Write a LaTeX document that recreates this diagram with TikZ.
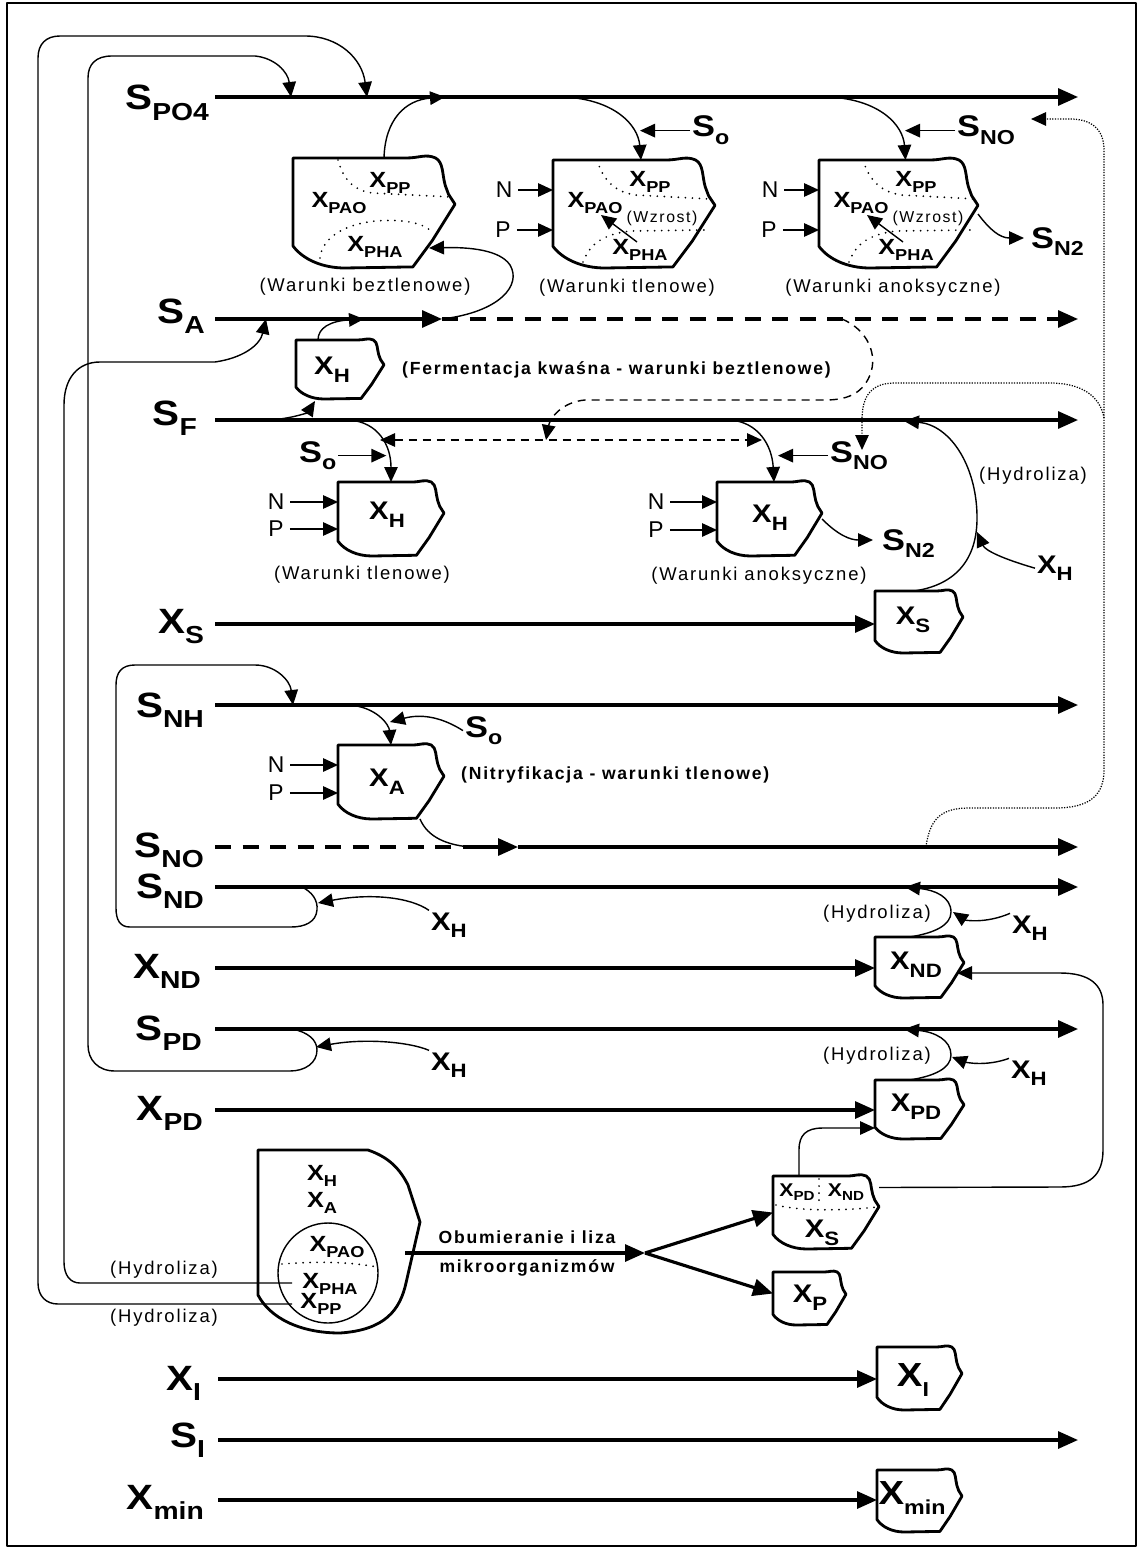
\documentclass[tikz,border=0pt]{standalone}
\usepackage{fontspec}
\setmainfont{Liberation Sans}
\newfontfamily\wfont[LetterSpace=10]{Liberation Sans}
\usetikzlibrary{arrows.meta}

% labels with subscripts
\newcommand{\wide}[1]{\scalebox{1.15}[1]{#1}}
\newcommand{\rowlab}[2]{\wide{\bfseries\fontsize{20}{20}\selectfont #1\raisebox{-6pt}{\fontsize{14}{14}\selectfont #2}}}
\newcommand{\boxlab}[2]{\wide{\bfseries\fontsize{19}{19}\selectfont #1\raisebox{-5.5pt}{\fontsize{11.5}{11.5}\selectfont #2}}}
\newcommand{\mlab}[2]{\wide{\bfseries\fontsize{17}{17}\selectfont #1\raisebox{-4.5pt}{\fontsize{11.5}{11.5}\selectfont #2}}}
\newcommand{\lab}[2]{\wide{\bfseries\fontsize{14.5}{14.5}\selectfont #1\raisebox{-4.5pt}{\fontsize{11}{11}\selectfont #2}}}
\newcommand{\slab}[2]{\wide{\bfseries\fontsize{12.5}{12.5}\selectfont #1\raisebox{-3.5pt}{\fontsize{9}{9}\selectfont #2}}}
\newcommand{\tlab}[2]{\wide{\bfseries\fontsize{10.5}{10.5}\selectfont #1\raisebox{-2.5pt}{\fontsize{7.5}{7.5}\selectfont #2}}}

\tikzset{
  main/.style={line width=1.8pt},
  conn/.style={line width=0.8pt},
  pointed/.style={arrows={-Triangle[length=3mm,width=2.7mm]}},
  twoway/.style={arrows={Triangle[length=3mm,width=2.7mm]-Triangle[length=3mm,width=2.7mm]}},
  blobline/.style={line width=1.6pt, line join=round},
  zone/.style={line width=1.1pt, line cap=round, dash pattern=on 0pt off 4pt},
  dots/.style={line width=0.7pt, dash pattern=on 0.7pt off 0.8pt},
  dashlong/.style={dash pattern=on 3.2mm off 2.3mm},
  dashshort/.style={dash pattern=on 1.6mm off 1.2mm},
  note/.style={font=\wfont\fontsize{10.5}{12}\selectfont},
  bnote/.style={font=\wfont\bfseries\fontsize{10}{12}\selectfont},
  rowname/.style={anchor=base east, inner sep=1pt},
  sidename/.style={anchor=base west, inner sep=1pt},
  np/.style={font=\fontsize{13}{13}\selectfont},
  hold/.style={shape=rectangle, inner sep=0pt, outer sep=0pt}
}

% irregular box: name, left, top, width, height
\newcommand{\blob}[5]{%
  \begin{scope}[shift={(#2,#3)}, xscale=#4, yscale=#5]
    \draw[blobline] (0,0) -- (0.7,0) .. controls (0.78,0) and (0.82,-0.04) .. (0.88,0)
      .. controls (0.93,0.04) and (0.92,0.15) .. (0.94,0.25) -- (0.96,0.33) -- (1,0.42)
      -- (0.86,0.75) -- (0.74,0.99) -- (0.32,1) .. controls (0.18,1) and (0.06,0.92) .. (0,0.8) -- cycle;
    \node[hold, minimum width=#4*0.2mm, minimum height=#5*0.2mm] (#1) at (0.5,0.5) {};
  \end{scope}}

\begin{document}
\begin{tikzpicture}[x=0.2mm, y=-0.2mm, >={Triangle[length=4mm,width=3.4mm]}, line join=round]
  \useasboundingbox (0,0) rectangle (1139,1548);
  \draw[line width=1.2pt] (7,3) rectangle (1136,1546);

  % Row ends
  \foreach \n/\y in {PO4/97, A/319, F/420, XS/624, NH/705, NO/847, ND/887, XND/968, PD/1029, XPD/1110}
    \coordinate (\n-in) at (215,\y);
  \foreach \n/\y in {XI/1379, SI/1440, Xmin/1500}
    \coordinate (\n-in) at (218,\y);
  \foreach \n/\y in {PO4/97, A/319, F/420, NH/705, NO/847, ND/887, PD/1029, SI/1440}
    \coordinate (\n-out) at (1078,\y);
  \coordinate (A-mid) at (442,319);
  \coordinate (NO-mid) at (470,847);
  \coordinate (NO-tip) at (518,847);
  \coordinate (split) at (645,1253);
  \coordinate (pha-out) at (292,1283);
  \coordinate (pp-out) at (292,1304);

  % Row names
  \node[rowname] (lPO4) at (211,110) {\rowlab{S}{PO4}};
  \node[rowname] (lA) at (207,323) {\rowlab{S}{A}};
  \node[rowname] (lF) at (199,425) {\rowlab{S}{F}};
  \node[rowname] (lXS) at (206,633) {\rowlab{X}{S}};
  \node[rowname] (lNH) at (206,717) {\rowlab{S}{NH}};
  \node[rowname] (lNO) at (206,857) {\rowlab{S}{NO}};
  \node[rowname] (lND) at (206,898) {\rowlab{S}{ND}};
  \node[rowname] (lXND) at (203,978) {\rowlab{X}{ND}};
  \node[rowname] (lPD) at (204,1040) {\rowlab{S}{PD}};
  \node[rowname] (lXPD) at (205,1120) {\rowlab{X}{PD}};
  \node[rowname] (lXI) at (203,1390) {\rowlab{X}{I}};
  \node[rowname] (lSI) at (207,1447) {\rowlab{S}{I}};
  \node[rowname] (lXmin) at (206,1509) {\rowlab{X}{min}};

  % Boxes
  \blob{bAn}{293}{158}{162}{110}
  \blob{bAe}{553}{160}{162}{108}
  \blob{bAx}{819}{160}{159}{108}
  \blob{bF}{296}{340}{88}{59}
  \blob{bHo}{338}{482}{106}{74}
  \blob{bHx}{717}{482}{105}{74}
  \blob{bXS}{875}{591}{88}{62}
  \blob{bXA}{338}{745}{106}{74}
  \blob{bXND}{875}{937}{89}{61}
  \blob{bXPD}{875}{1080}{89}{59}
  \blob{bMix}{773}{1176}{106}{73}
  \blob{bXP}{773}{1272}{73}{53}
  \blob{bXI}{877}{1347}{85}{63}
  \blob{bXmin}{877}{1470}{85}{62}
  \draw[blobline] (258,1150) -- (368,1150) .. controls (385,1156) and (398,1165) .. (408,1185)
    -- (420,1222) -- (406,1283) .. controls (400,1310) and (385,1330) .. (340,1333)
    .. controls (300,1333) and (270,1318) .. (258,1295) -- cycle;
  \node[hold, minimum width=162*0.2mm, minimum height=183*0.2mm] (bLys) at (339,1241) {};

  % Rows
  \draw[main,->] (PO4-in) -- (PO4-out);
  \draw[main,->] (A-in) -- (A-mid);
  \draw[main,dashlong,->] (A-mid) -- (A-out);
  \draw[main,->] (F-in) -- (F-out);
  \draw[main,->] (XS-in) -- (XS-in -| bXS.west);
  \draw[main,->] (NH-in) -- (NH-out);
  \draw[main,dashlong] (NO-in) -- (NO-mid);
  \draw[main,->] (NO-mid) -- (NO-tip);
  \draw[main,->] (NO-tip) -- (NO-out);
  \draw[main,->] (ND-in) -- (ND-out);
  \draw[main,->] (XND-in) -- (XND-in -| bXND.west);
  \draw[main,->] (PD-in) -- (PD-out);
  \draw[main,->] (XPD-in) -- (XPD-in -| bXPD.west);
  \draw[main,->] (XI-in) -- (XI-in -| bXI.west);
  \draw[main,->] (SI-in) -- (SI-out);
  \draw[main,->] (Xmin-in) -- (Xmin-in -| bXmin.west);

  % Anaerobic PAO box
  \draw[zone] (338,160) .. controls (343,178) and (352,190) .. (372,193) -- (452,197);
  \draw[zone] (320,258) .. controls (322,240) and (340,225) .. (375,221) .. controls (400,219) and (420,222) .. (430,230);
  \node (anPP) at (390,183) {\slab{X}{PP}};
  \node (anPAO) at (339,203) {\slab{X}{PAO}};
  \node (anPHA) at (375,247) {\slab{X}{PHA}};
  \node[note] (wAn) at (365,287) {(Warunki beztlenowe)};
  \draw[conn,pointed] ([xshift=2mm]bAn.north) .. controls (385,120) and (405,100) .. (445,97);
  \draw[conn,pointed] (A-mid) .. controls (500,312) and (522,285) .. (510,265) .. controls (500,250) and (470,247) .. (429,248);

  % Aerobic and anoxic PAO boxes
  \foreach \dx in {0,266} {
    \begin{scope}[shift={(\dx,0)}]
      \draw[zone] (597,160) .. controls (603,180) and (615,192) .. (635,195) -- (710,199);
      \draw[zone] (583,262) .. controls (590,245) and (600,235) .. (630,231) -- (705,230);
      \node (pp\dx) at (650,182) {\slab{X}{PP}};
      \node (pao\dx) at (595,203) {\slab{X}{PAO}};
      \node (pha\dx) at (640,250) {\slab{X}{PHA}};
      \node[note, font=\wfont\fontsize{9}{10}\selectfont] (wz\dx) at (662,218) {(Wzrost)};
      \draw[conn,pointed] (637,242) -- (601,215);
      \node[np] (n\dx) at (504,190) {N};
      \node[np] (p\dx) at (503,230) {P};
    \end{scope}
  }
  \draw[conn,pointed] (n0.east) -- (n0.east -| bAe.west);
  \draw[conn,pointed] (p0.east) -- (p0.east -| bAe.west);
  \draw[conn,pointed] (n266.east) -- (n266.east -| bAx.west);
  \draw[conn,pointed] (p266.east) -- (p266.east -| bAx.west);
  \node[note] (wAe) at (627,288) {(Warunki tlenowe)};
  \node[note] (wAx) at (893,288) {(Warunki anoksyczne)};
  \node[sidename] (so1) at (690,137) {\mlab{S}{o}};
  \node[sidename] (sno1) at (955,137) {\mlab{S}{NO}};
  \node[sidename] (sn21) at (1029,248) {\mlab{S}{N2}};
  \draw[conn,pointed] (565,97) .. controls (615,100) and (638,125) .. ([xshift=1.4mm]bAe.north);
  \draw[conn,pointed] (830,97) .. controls (880,100) and (903,125) .. ([xshift=1.4mm]bAx.north);
  \draw[conn,pointed] (so1.west) -- ++(-50,0);
  \draw[conn,pointed] (sno1.west) -- ++(-50,0);
  \draw[conn,pointed] (bAx.east) .. controls (990,230) and (1000,238) .. (1024,238);

  % Fermentation
  \node (tF) at (332,370) {\lab{X}{H}};
  \node[bnote, anchor=west] (ferm) at (396,370) {(Fermentacja kwaśna - warunki beztlenowe)};
  \draw[conn,pointed] (271,420) .. controls (295,418) and (308,412) .. (315,401);
  \draw[conn,pointed] ([xshift=-4.4mm]bF.north) .. controls (318,328) and (330,321) .. (364,319);

  % Acetate towards the X_H boxes
  \draw[conn,dashshort,pointed] (842,319) .. controls (868,330) and (878,355) .. (870,375)
    .. controls (862,395) and (845,400) .. (825,400) -- (585,400) .. controls (562,402) and (550,418) .. (546,440);
  \draw[conn,dashshort,twoway] (380,440) -- (762,440);

  % X_H aerobic and anoxic
  \node (tHo) at (387,515) {\lab{X}{H}};
  \node (tHx) at (770,518) {\lab{X}{H}};
  \node[np] (nHo) at (276,502) {N};
  \node[np] (pHo) at (276,529) {P};
  \node[np] (nHx) at (656,502) {N};
  \node[np] (pHx) at (656,530) {P};
  \draw[conn,pointed] (nHo.east) -- (nHo.east -| bHo.west);
  \draw[conn,pointed] (pHo.east) -- (pHo.east -| bHo.west);
  \draw[conn,pointed] (nHx.east) -- (nHx.east -| bHx.west);
  \draw[conn,pointed] (pHx.east) -- (pHx.east -| bHx.west);
  \node[sidename] (so2) at (297,462) {\mlab{S}{o}};
  \node[sidename] (sno2) at (828,462) {\mlab{S}{NO}};
  \node[sidename] (sn22) at (880,550) {\mlab{S}{N2}};
  \draw[conn,pointed] (349,420) .. controls (378,422) and (391,445) .. (bHo.north);
  \draw[conn,pointed] (730,420) .. controls (758,422) and (772,445) .. ([xshift=0.9mm]bHx.north);
  \draw[conn,pointed] (so2.east) -- ++(48,0);
  \draw[conn,pointed] (sno2.west) -- ++(-50,0);
  \draw[conn,pointed] (bHx.east) .. controls (838,535) and (850,540) .. (873,540);
  \node[note] (wHo) at (362,575) {(Warunki tlenowe)};
  \node[note] (wHx) at (759,576) {(Warunki anoksyczne)};

  % Nitrate recirculation
  \draw[dots,pointed] (926,847) .. controls (930,815) and (945,808) .. (970,808) -- (1055,808)
    .. controls (1090,808) and (1104,795) .. (1104,770) -- (1104,150)
    .. controls (1104,128) and (1090,119) .. (1070,119) -- (1031,119);
  \draw[dots,pointed] (1104,418) .. controls (1100,395) and (1080,383) .. (1050,383) -- (895,383)
    .. controls (872,383) and (862,395) .. (862,420) -- (862,450);

  % Hydrolysis of X_S
  \node (tXS) at (913,620) {\lab{X}{S}};
  \node[sidename] (hXS) at (1035,573) {\lab{X}{H}};
  \node[note] (hy1) at (1033,476) {(Hydroliza)};
  \draw[conn,pointed] ([xshift=-1mm]bXS.north) .. controls (955,585) and (978,560) .. (977,515)
    .. controls (976,465) and (950,425) .. (904,421);
  \draw[conn,pointed] (hXS.west) .. controls (1000,558) and (985,550) .. (977,532);

  % Nitrification
  \node (tXA) at (387,782) {\lab{X}{A}};
  \node[np] (nXA) at (276,765) {N};
  \node[np] (pXA) at (276,793) {P};
  \draw[conn,pointed] (nXA.east) -- (nXA.east -| bXA.west);
  \draw[conn,pointed] (pXA.east) -- (pXA.east -| bXA.west);
  \node[sidename] (so3) at (463,737) {\mlab{S}{o}};
  \node[bnote, anchor=west] (nitr) at (455,775) {(Nitryfikacja - warunki tlenowe)};
  \draw[conn,pointed] (349,705) .. controls (377,707) and (389,725) .. (bXA.north);
  \draw[conn,pointed] (so3.west) .. controls (440,716) and (420,714) .. (390,722);
  \draw[conn] ([xshift=-4.8mm]bXA.south east) .. controls (428,838) and (448,845) .. (NO-mid);

  % S_ND and S_PD loops
  \node[sidename] (hL1) at (429,930) {\lab{X}{H}};
  \node[sidename] (hL2) at (429,1070) {\lab{X}{H}};
  \draw[conn,pointed] (302,887) .. controls (312,892) and (318,900) .. (317,910)
    .. controls (316,922) and (305,927) .. (291,927) -- (130,927) .. controls (120,927) and (116,920) .. (116,908)
    -- (116,685) .. controls (116,672) and (122,665) .. (135,665) -- (255,665)
    .. controls (275,665) and (290,680) .. (293,705);
  \draw[conn,pointed] (hL1.north west) .. controls (410,897) and (370,893) .. (318,903);
  \draw[conn,pointed] (292,1029) .. controls (308,1032) and (317,1040) .. (317,1050)
    .. controls (317,1063) and (305,1071) .. (290,1071) -- (115,1071) .. controls (98,1071) and (88,1060) .. (88,1045)
    -- (88,78) .. controls (88,64) and (96,56) .. (112,56) -- (255,56)
    .. controls (275,58) and (288,72) .. (291,97);
  \draw[conn,pointed] (hL2.north west) .. controls (410,1042) and (365,1038) .. (316,1047);

  % Hydrolysis of X_ND and X_PD
  \node (tXND) at (916,965) {\lab{X}{ND}};
  \node (tXPD) at (916,1107) {\lab{X}{PD}};
  \node[sidename] (hND) at (1010,933) {\lab{X}{H}};
  \node[sidename] (hPD) at (1009,1078) {\lab{X}{H}};
  \node[note] (hy2) at (877,914) {(Hydroliza)};
  \node[note] (hy3) at (877,1056) {(Hydroliza)};
  \draw[conn,pointed] ([xshift=-2mm]bXND.north) .. controls (935,933) and (951,925) .. (951,912)
    .. controls (951,897) and (935,890) .. (905,887);
  \draw[conn,pointed] (hND.north west) .. controls (985,924) and (965,920) .. (953,912);
  \draw[conn,pointed] ([xshift=-2mm]bXPD.north) .. controls (935,1076) and (951,1068) .. (951,1055)
    .. controls (951,1040) and (935,1032) .. (904,1029);
  \draw[conn,pointed] (hPD.north west) .. controls (985,1067) and (965,1062) .. (952,1057);

  % Products of decay
  \draw[zone] (819,1179) -- (819,1205);
  \draw[zone] (776,1205) .. controls (800,1211) and (840,1211) .. (877,1207);
  \node (mPD) at (797,1192) {\tlab{X}{PD}};
  \node (mND) at (846,1192) {\tlab{X}{ND}};
  \node (mS) at (822,1233) {\lab{X}{S}};
  \node (tXP) at (810,1298) {\lab{X}{P}};
  \draw[conn,pointed] ([xshift=-5.4mm]bMix.north) -- (799,1150) .. controls (799,1135) and (806,1128) .. (823,1128)
    -- ([yshift=2.2mm]bXPD.south west);
  \draw[conn,pointed] ([yshift=5mm]bMix.east) -- (1060,1187) .. controls (1090,1187) and (1103,1175) .. (1103,1150)
    -- (1103,1005) .. controls (1103,985) and (1090,973) .. (1060,973) -- (957,973);

  % Decay and lysis
  \draw[line width=0.8pt] (328,1273) circle [radius=10mm];
  \draw[zone] (282,1264) .. controls (320,1261) and (350,1262) .. (377,1267);
  \node (lyH) at (322,1176) {\slab{X}{H}};
  \node (lyA) at (322,1203) {\slab{X}{A}};
  \node (lyPAO) at (337,1247) {\slab{X}{PAO}};
  \node (lyPHA) at (330,1284) {\slab{X}{PHA}};
  \node (lyPP) at (321,1304) {\slab{X}{PP}};
  \node[bnote] (ob1) at (527,1237) {Obumieranie i liza};
  \node[bnote] (ob2) at (527,1268) {mikroorganizmów};
  \draw[main,->] (405,1253) -- (split);
  \draw[main,->] (split) -- (bMix.west);
  \draw[main,->] (split) -- ([yshift=1mm]bXP.west);
  \node[note] (hy4) at (164,1270) {(Hydroliza)};
  \node[note] (hy5) at (164,1318) {(Hydroliza)};
  \draw[conn,pointed] (pha-out) -- (80,1283) .. controls (70,1283) and (64,1275) .. (64,1262) -- (64,405)
    .. controls (64,378) and (78,362) .. (100,362) -- (215,362) .. controls (243,358) and (260,345) .. (266,319);
  \draw[conn,pointed] (pp-out) -- (58,1304) .. controls (46,1304) and (38,1296) .. (38,1283) -- (38,58)
    .. controls (38,44) and (46,36) .. (60,36) -- (305,36) .. controls (338,36) and (362,58) .. (367,97);

  % Inert and mineral fractions
  \node (tXI) at (913,1380) {\boxlab{X}{I}};
  \node (tXmin) at (912,1498) {\boxlab{X}{min}};
\end{tikzpicture}
\end{document}
